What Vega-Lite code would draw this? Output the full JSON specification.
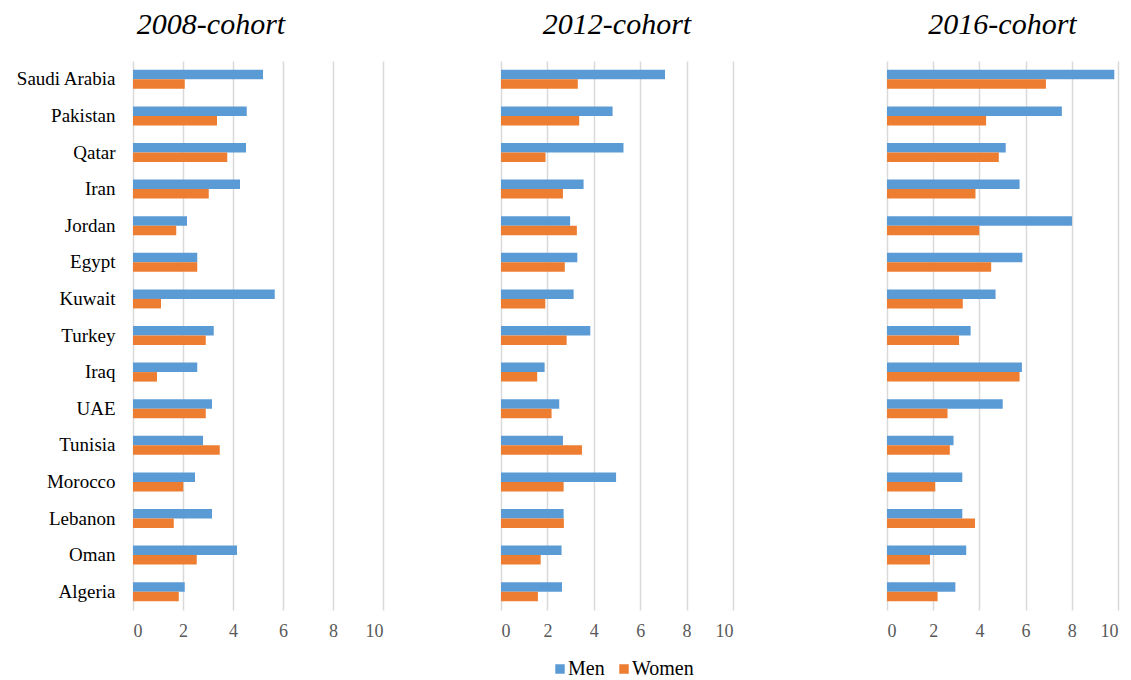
{
  "$schema": "https://vega.github.io/schema/vega-lite/v6.json",
  "padding": {"left": 15, "top": 10, "right": 5, "bottom": 5},
  "background": "white",
  "config": {
    "view": {"stroke": null},
    "font": "Liberation Serif",
    "axis": {"labelFont": "Liberation Serif", "grid": false, "domain": false, "ticks": false},
    "legend": {"labelFont": "Liberation Serif"},
    "title": {"font": "Liberation Serif", "fontStyle": "italic", "fontWeight": "normal", "fontSize": 30, "color": "black", "offset": 21}
  },
  "data": {"values": [
    {"cohort": "2008", "country": "Saudi Arabia", "sex": "Men", "value": 5.2},
    {"cohort": "2008", "country": "Saudi Arabia", "sex": "Women", "value": 2.07},
    {"cohort": "2008", "country": "Pakistan", "sex": "Men", "value": 4.55},
    {"cohort": "2008", "country": "Pakistan", "sex": "Women", "value": 3.36},
    {"cohort": "2008", "country": "Qatar", "sex": "Men", "value": 4.52},
    {"cohort": "2008", "country": "Qatar", "sex": "Women", "value": 3.77},
    {"cohort": "2008", "country": "Iran", "sex": "Men", "value": 4.28},
    {"cohort": "2008", "country": "Iran", "sex": "Women", "value": 3.03},
    {"cohort": "2008", "country": "Jordan", "sex": "Men", "value": 2.16},
    {"cohort": "2008", "country": "Jordan", "sex": "Women", "value": 1.73},
    {"cohort": "2008", "country": "Egypt", "sex": "Men", "value": 2.57},
    {"cohort": "2008", "country": "Egypt", "sex": "Women", "value": 2.57},
    {"cohort": "2008", "country": "Kuwait", "sex": "Men", "value": 5.67},
    {"cohort": "2008", "country": "Kuwait", "sex": "Women", "value": 1.12},
    {"cohort": "2008", "country": "Turkey", "sex": "Men", "value": 3.23},
    {"cohort": "2008", "country": "Turkey", "sex": "Women", "value": 2.91},
    {"cohort": "2008", "country": "Iraq", "sex": "Men", "value": 2.57},
    {"cohort": "2008", "country": "Iraq", "sex": "Women", "value": 0.96},
    {"cohort": "2008", "country": "UAE", "sex": "Men", "value": 3.16},
    {"cohort": "2008", "country": "UAE", "sex": "Women", "value": 2.91},
    {"cohort": "2008", "country": "Tunisia", "sex": "Men", "value": 2.8},
    {"cohort": "2008", "country": "Tunisia", "sex": "Women", "value": 3.47},
    {"cohort": "2008", "country": "Morocco", "sex": "Men", "value": 2.48},
    {"cohort": "2008", "country": "Morocco", "sex": "Women", "value": 2.01},
    {"cohort": "2008", "country": "Lebanon", "sex": "Men", "value": 3.16},
    {"cohort": "2008", "country": "Lebanon", "sex": "Women", "value": 1.63},
    {"cohort": "2008", "country": "Oman", "sex": "Men", "value": 4.16},
    {"cohort": "2008", "country": "Oman", "sex": "Women", "value": 2.55},
    {"cohort": "2008", "country": "Algeria", "sex": "Men", "value": 2.07},
    {"cohort": "2008", "country": "Algeria", "sex": "Women", "value": 1.83},
    {"cohort": "2012", "country": "Saudi Arabia", "sex": "Men", "value": 7.07},
    {"cohort": "2012", "country": "Saudi Arabia", "sex": "Women", "value": 3.31},
    {"cohort": "2012", "country": "Pakistan", "sex": "Men", "value": 4.81},
    {"cohort": "2012", "country": "Pakistan", "sex": "Women", "value": 3.37},
    {"cohort": "2012", "country": "Qatar", "sex": "Men", "value": 5.28},
    {"cohort": "2012", "country": "Qatar", "sex": "Women", "value": 1.92},
    {"cohort": "2012", "country": "Iran", "sex": "Men", "value": 3.56},
    {"cohort": "2012", "country": "Iran", "sex": "Women", "value": 2.67},
    {"cohort": "2012", "country": "Jordan", "sex": "Men", "value": 2.98},
    {"cohort": "2012", "country": "Jordan", "sex": "Women", "value": 3.27},
    {"cohort": "2012", "country": "Egypt", "sex": "Men", "value": 3.29},
    {"cohort": "2012", "country": "Egypt", "sex": "Women", "value": 2.75},
    {"cohort": "2012", "country": "Kuwait", "sex": "Men", "value": 3.13},
    {"cohort": "2012", "country": "Kuwait", "sex": "Women", "value": 1.91},
    {"cohort": "2012", "country": "Turkey", "sex": "Men", "value": 3.85},
    {"cohort": "2012", "country": "Turkey", "sex": "Women", "value": 2.83},
    {"cohort": "2012", "country": "Iraq", "sex": "Men", "value": 1.88},
    {"cohort": "2012", "country": "Iraq", "sex": "Women", "value": 1.56},
    {"cohort": "2012", "country": "UAE", "sex": "Men", "value": 2.51},
    {"cohort": "2012", "country": "UAE", "sex": "Women", "value": 2.18},
    {"cohort": "2012", "country": "Tunisia", "sex": "Men", "value": 2.67},
    {"cohort": "2012", "country": "Tunisia", "sex": "Women", "value": 3.49},
    {"cohort": "2012", "country": "Morocco", "sex": "Men", "value": 4.96},
    {"cohort": "2012", "country": "Morocco", "sex": "Women", "value": 2.7},
    {"cohort": "2012", "country": "Lebanon", "sex": "Men", "value": 2.7},
    {"cohort": "2012", "country": "Lebanon", "sex": "Women", "value": 2.71},
    {"cohort": "2012", "country": "Oman", "sex": "Men", "value": 2.61},
    {"cohort": "2012", "country": "Oman", "sex": "Women", "value": 1.71},
    {"cohort": "2012", "country": "Algeria", "sex": "Men", "value": 2.63},
    {"cohort": "2012", "country": "Algeria", "sex": "Women", "value": 1.59},
    {"cohort": "2016", "country": "Saudi Arabia", "sex": "Men", "value": 9.84},
    {"cohort": "2016", "country": "Saudi Arabia", "sex": "Women", "value": 6.88},
    {"cohort": "2016", "country": "Pakistan", "sex": "Men", "value": 7.57},
    {"cohort": "2016", "country": "Pakistan", "sex": "Women", "value": 4.29},
    {"cohort": "2016", "country": "Qatar", "sex": "Men", "value": 5.14},
    {"cohort": "2016", "country": "Qatar", "sex": "Women", "value": 4.84},
    {"cohort": "2016", "country": "Iran", "sex": "Men", "value": 5.74},
    {"cohort": "2016", "country": "Iran", "sex": "Women", "value": 3.83},
    {"cohort": "2016", "country": "Jordan", "sex": "Men", "value": 8.01},
    {"cohort": "2016", "country": "Jordan", "sex": "Women", "value": 3.99},
    {"cohort": "2016", "country": "Egypt", "sex": "Men", "value": 5.86},
    {"cohort": "2016", "country": "Egypt", "sex": "Women", "value": 4.51},
    {"cohort": "2016", "country": "Kuwait", "sex": "Men", "value": 4.7},
    {"cohort": "2016", "country": "Kuwait", "sex": "Women", "value": 3.28},
    {"cohort": "2016", "country": "Turkey", "sex": "Men", "value": 3.62},
    {"cohort": "2016", "country": "Turkey", "sex": "Women", "value": 3.12},
    {"cohort": "2016", "country": "Iraq", "sex": "Men", "value": 5.84},
    {"cohort": "2016", "country": "Iraq", "sex": "Women", "value": 5.74},
    {"cohort": "2016", "country": "UAE", "sex": "Men", "value": 5.01},
    {"cohort": "2016", "country": "UAE", "sex": "Women", "value": 2.62},
    {"cohort": "2016", "country": "Tunisia", "sex": "Men", "value": 2.88},
    {"cohort": "2016", "country": "Tunisia", "sex": "Women", "value": 2.72},
    {"cohort": "2016", "country": "Morocco", "sex": "Men", "value": 3.26},
    {"cohort": "2016", "country": "Morocco", "sex": "Women", "value": 2.09},
    {"cohort": "2016", "country": "Lebanon", "sex": "Men", "value": 3.26},
    {"cohort": "2016", "country": "Lebanon", "sex": "Women", "value": 3.81},
    {"cohort": "2016", "country": "Oman", "sex": "Men", "value": 3.43},
    {"cohort": "2016", "country": "Oman", "sex": "Women", "value": 1.86},
    {"cohort": "2016", "country": "Algeria", "sex": "Men", "value": 2.96},
    {"cohort": "2016", "country": "Algeria", "sex": "Women", "value": 2.19}
  ]},
  "spacing": 118,
  "hconcat": [
    {
      "width": 250,
      "height": 549,
      "title": {"text": "2008-cohort", "dx": -47},
      "transform": [{"filter": "datum.cohort === '2008'"}],
      "mark": {"type": "bar"},
      "encoding": {
        "y": {"field": "country", "type": "nominal", "title": null,
          "sort": ["Saudi Arabia","Pakistan","Qatar","Iran","Jordan","Egypt","Kuwait","Turkey","Iraq","UAE","Tunisia","Morocco","Lebanon","Oman","Algeria"],
          "scale": {"paddingInner": 0.48, "paddingOuter": 0.24},
          "axis": {"labelFont": "Liberation Serif", "labelFontSize": 19, "labelColor": "#000000", "labelPadding": 18}},
        "yOffset": {"field": "sex", "type": "nominal", "scale": {"paddingInner": 0, "paddingOuter": 0}},
        "x": {"field": "value", "type": "quantitative", "title": null,
          "scale": {"domain": [0, 10], "nice": false},
          "axis": {"values": [0, 2, 4, 6, 8, 10], "grid": true, "gridColor": "#D9D9D9", "gridWidth": 1.5, "labelFont": "Liberation Serif", "labelFontSize": 18, "labelColor": "#595959", "labelPadding": 12}},
        "color": {"field": "sex", "type": "nominal", "title": null,
          "scale": {"domain": ["Men", "Women"], "range": ["#5B9BD5", "#ED7D31"]},
          "legend": {"orient": "none", "legendX": 417, "legendY": 598, "direction": "horizontal", "symbolType": "square", "symbolSize": 90, "symbolStrokeWidth": 0, "labelFontSize": 20, "labelFont": "Liberation Serif", "labelColor": "#000000", "columnPadding": 9, "labelOffset": -2}}
      }
    },
    {
      "spacing": 154,
      "hconcat": [
        {
          "width": 232,
          "height": 549,
          "title": {"text": "2012-cohort"},
          "transform": [{"filter": "datum.cohort === '2012'"}],
          "mark": {"type": "bar"},
          "encoding": {
            "y": {"field": "country", "type": "nominal", "title": null,
              "sort": ["Saudi Arabia","Pakistan","Qatar","Iran","Jordan","Egypt","Kuwait","Turkey","Iraq","UAE","Tunisia","Morocco","Lebanon","Oman","Algeria"],
              "scale": {"paddingInner": 0.48, "paddingOuter": 0.24},
              "axis": null},
            "yOffset": {"field": "sex", "type": "nominal", "scale": {"paddingInner": 0, "paddingOuter": 0}},
            "x": {"field": "value", "type": "quantitative", "title": null,
              "scale": {"domain": [0, 10], "nice": false},
              "axis": {"values": [0, 2, 4, 6, 8, 10], "grid": true, "gridColor": "#D9D9D9", "gridWidth": 1.5, "labelFont": "Liberation Serif", "labelFontSize": 18, "labelColor": "#595959", "labelPadding": 12}},
            "color": {"field": "sex", "type": "nominal", "legend": null,
              "scale": {"domain": ["Men", "Women"], "range": ["#5B9BD5", "#ED7D31"]}}
          }
        },
        {
          "width": 231,
          "height": 549,
          "title": {"text": "2016-cohort"},
          "transform": [{"filter": "datum.cohort === '2016'"}],
          "mark": {"type": "bar"},
          "encoding": {
            "y": {"field": "country", "type": "nominal", "title": null,
              "sort": ["Saudi Arabia","Pakistan","Qatar","Iran","Jordan","Egypt","Kuwait","Turkey","Iraq","UAE","Tunisia","Morocco","Lebanon","Oman","Algeria"],
              "scale": {"paddingInner": 0.48, "paddingOuter": 0.24},
              "axis": null},
            "yOffset": {"field": "sex", "type": "nominal", "scale": {"paddingInner": 0, "paddingOuter": 0}},
            "x": {"field": "value", "type": "quantitative", "title": null,
              "scale": {"domain": [0, 10], "nice": false},
              "axis": {"values": [0, 2, 4, 6, 8, 10], "grid": true, "gridColor": "#D9D9D9", "gridWidth": 1.5, "labelFont": "Liberation Serif", "labelFontSize": 18, "labelColor": "#595959", "labelPadding": 12}},
            "color": {"field": "sex", "type": "nominal", "legend": null,
              "scale": {"domain": ["Men", "Women"], "range": ["#5B9BD5", "#ED7D31"]}}
          }
        }
      ]
    }
  ]
}
